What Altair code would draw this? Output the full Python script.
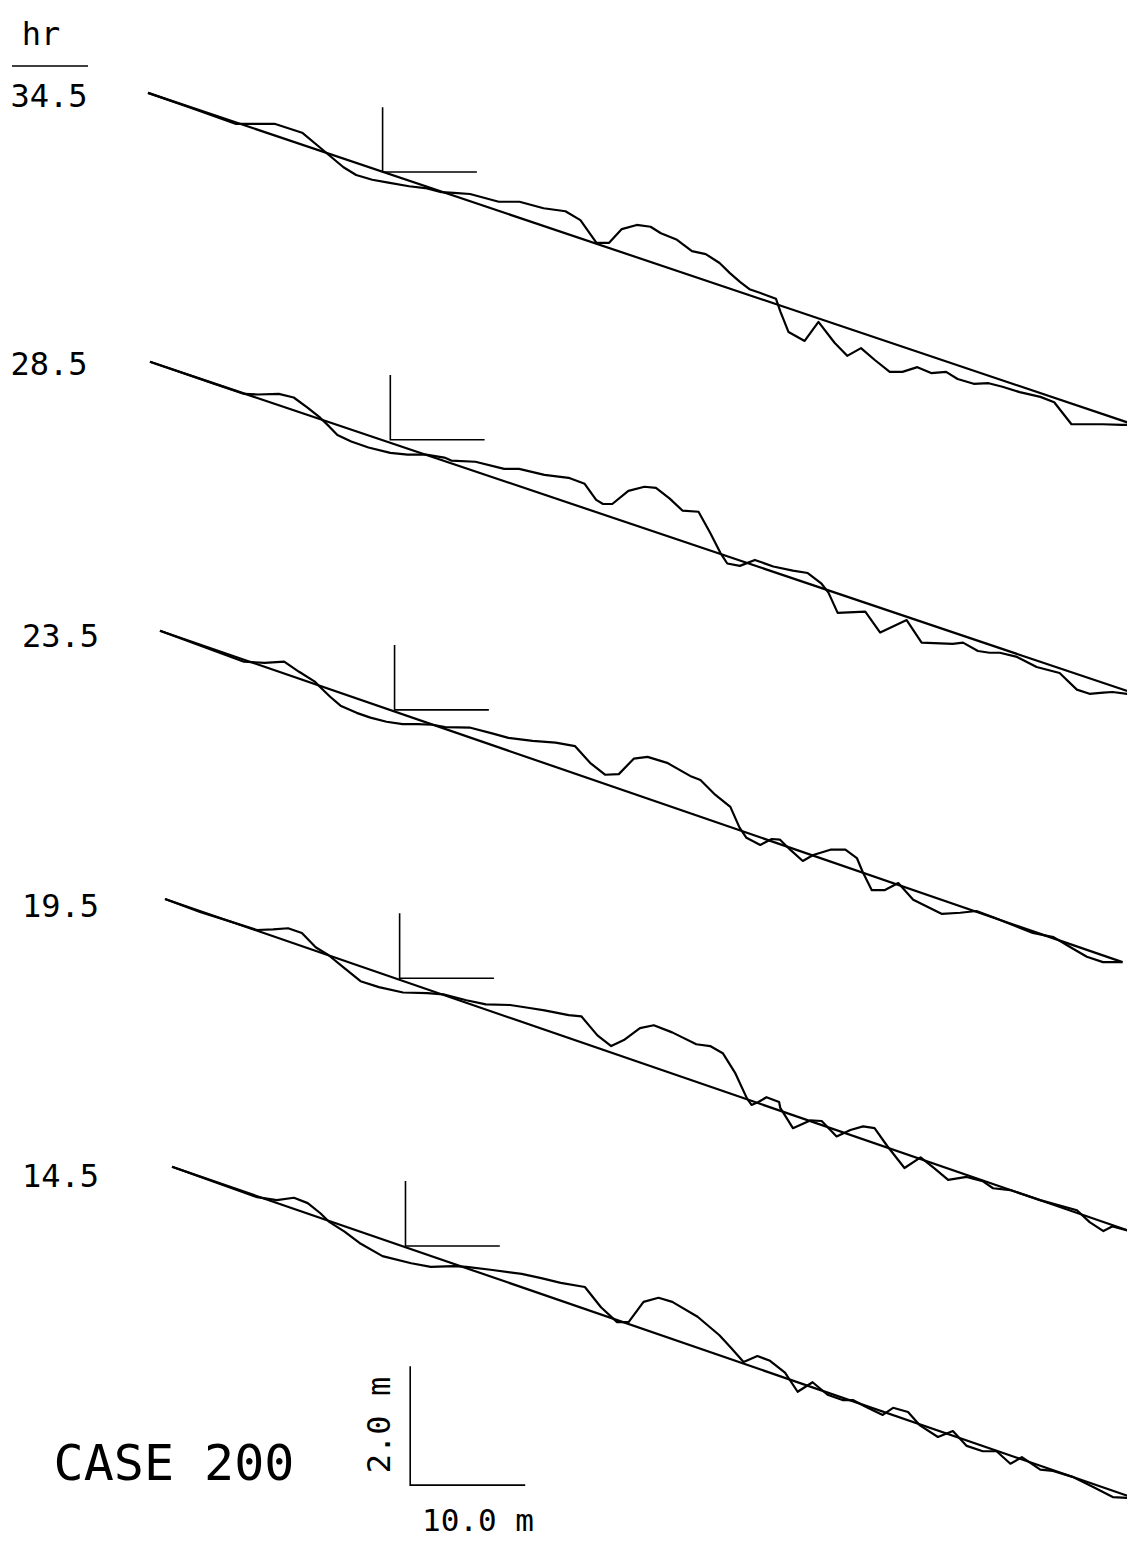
import altair as alt
import pandas as pd

# ---------------- data ----------------
HOURS = ["34.5", "28.5", "23.5", "19.5", "14.5"]

# cross-shore distance (m) and elevation relative to SWL (m) of each measured profile
P1_X = [0.0, 3.7, 7.6, 11.0, 13.4, 14.9, 15.7, 17.0, 18.1, 19.5, 20.9, 22.7, 24.1, 25.5, 26.6,
        28.0, 30.5, 32.3, 34.4, 36.3, 37.6, 39.0, 40.1, 41.2, 42.5, 43.7, 44.6, 46.0, 47.3, 48.5,
        49.7, 50.6, 51.5, 52.3, 53.2, 54.6, 55.0, 55.7, 57.1, 58.3, 59.7, 60.8, 62.0, 63.2, 64.5,
        65.6, 66.9, 68.1, 69.4, 70.4, 71.8, 73.1, 74.3, 75.8, 77.6, 78.8, 80.3, 83.0, 84.7, 85.8]
P1_Z = [1.33, 1.08, 0.81, 0.81, 0.66, 0.42, 0.29, 0.08, -0.05, -0.13, -0.18, -0.24, -0.27, -0.34, -0.35,
        -0.37, -0.50, -0.50, -0.61, -0.66, -0.81, -1.19, -1.19, -0.96, -0.89, -0.92, -1.03, -1.14, -1.33, -1.38,
        -1.53, -1.70, -1.85, -1.97, -2.03, -2.13, -2.35, -2.69, -2.84, -2.52, -2.87, -3.09, -2.96, -3.16, -3.36,
        -3.36, -3.28, -3.38, -3.36, -3.48, -3.56, -3.55, -3.61, -3.70, -3.78, -3.87, -4.24, -4.24, -4.25, -4.25]

P2_X = [0.0, 5.3, 8.2, 9.4, 11.2, 12.5, 13.7, 14.8, 15.6, 16.3, 17.5, 19.0, 20.9, 22.4, 24.0,
        25.6, 26.2, 28.3, 30.8, 32.1, 34.3, 36.4, 37.8, 38.8, 39.4, 40.2, 41.6, 43.0, 44.0, 45.2,
        46.3, 47.7, 48.7, 49.6, 50.2, 51.3, 52.6, 54.2, 55.9, 57.2, 58.4, 59.0, 59.8, 62.2, 63.5,
        65.8, 67.1, 69.8, 70.7, 72.0, 73.0, 73.9, 75.4, 77.1, 79.1, 80.6, 81.7, 82.9, 83.7, 85.7]
P2_Z = [1.31, 0.96, 0.77, 0.76, 0.77, 0.71, 0.54, 0.37, 0.22, 0.08, -0.03, -0.13, -0.22, -0.25, -0.25,
        -0.30, -0.35, -0.37, -0.49, -0.49, -0.59, -0.64, -0.74, -1.01, -1.08, -1.08, -0.86, -0.79, -0.81, -0.99,
        -1.19, -1.21, -1.56, -1.90, -2.08, -2.12, -2.02, -2.13, -2.20, -2.24, -2.42, -2.57, -2.91, -2.89, -3.24,
        -3.03, -3.41, -3.43, -3.41, -3.55, -3.58, -3.58, -3.65, -3.82, -3.92, -4.20, -4.27, -4.25, -4.24, -4.29]

P3_X = [0.0, 7.3, 9.1, 10.8, 12.1, 13.5, 13.9, 14.8, 15.7, 17.1, 18.3, 19.7, 21.1, 22.4, 23.7,
        24.8, 27.0, 28.8, 30.3, 32.4, 34.4, 36.1, 37.4, 38.7, 39.9, 41.2, 42.4, 44.1, 46.1, 47.0,
        48.3, 49.6, 50.4, 51.0, 52.2, 53.2, 53.9, 54.8, 55.9, 56.8, 58.3, 59.6, 60.6, 61.1, 61.9,
        63.0, 64.2, 65.5, 68.0, 69.6, 71.0, 71.7, 72.4, 75.9, 77.7, 79.1, 80.6, 82.0, 83.7]
P3_Z = [1.33, 0.81, 0.79, 0.81, 0.64, 0.47, 0.39, 0.22, 0.07, -0.05, -0.13, -0.20, -0.24, -0.24, -0.25,
        -0.29, -0.30, -0.39, -0.47, -0.52, -0.55, -0.61, -0.89, -1.09, -1.08, -0.82, -0.79, -0.89, -1.11, -1.18,
        -1.43, -1.63, -1.98, -2.15, -2.27, -2.17, -2.18, -2.35, -2.54, -2.44, -2.35, -2.35, -2.49, -2.72, -3.03,
        -3.03, -2.91, -3.19, -3.43, -3.41, -3.38, -3.43, -3.48, -3.75, -3.82, -3.98, -4.15, -4.24, -4.24]

P4_X = [0.0, 3.1, 8.0, 9.4, 10.7, 11.9, 13.1, 14.2, 15.6, 17.0, 18.6, 20.7, 22.8, 24.2, 26.2,
        27.9, 30.0, 31.7, 33.0, 35.1, 36.2, 37.6, 38.8, 39.9, 41.3, 42.5, 44.1, 46.2, 47.4, 48.5,
        49.6, 50.6, 51.0, 51.6, 52.3, 53.4, 53.5, 54.6, 56.1, 57.1, 58.4, 59.6, 60.7, 61.7, 62.8,
        64.3, 65.7, 66.8, 68.1, 69.7, 71.1, 72.0, 73.5, 76.1, 79.3, 80.4, 81.6, 82.4, 83.9]
P4_Z = [1.33, 1.11, 0.81, 0.82, 0.84, 0.76, 0.52, 0.39, 0.17, -0.05, -0.15, -0.24, -0.25, -0.27, -0.37,
        -0.44, -0.45, -0.50, -0.54, -0.62, -0.64, -0.96, -1.14, -1.04, -0.84, -0.79, -0.91, -1.11, -1.14, -1.26,
        -1.60, -2.02, -2.13, -2.08, -2.00, -2.08, -2.18, -2.52, -2.39, -2.40, -2.66, -2.55, -2.49, -2.52, -2.82,
        -3.19, -3.01, -3.18, -3.39, -3.34, -3.41, -3.53, -3.56, -3.73, -3.90, -4.10, -4.25, -4.17, -4.25]

P5_X = [0.0, 7.4, 9.1, 10.6, 11.8, 12.9, 13.7, 15.0, 16.3, 18.3, 20.8, 22.5, 24.5, 25.6, 27.7,
        30.4, 32.1, 33.8, 35.9, 37.3, 38.7, 39.7, 41.0, 42.3, 43.5, 45.7, 47.6, 48.6, 49.7, 50.9,
        52.0, 53.3, 54.4, 55.7, 57.0, 58.3, 59.2, 60.4, 61.8, 62.7, 64.0, 65.0, 66.6, 67.9, 69.1,
        70.5, 71.7, 72.9, 73.9, 75.5, 76.6, 78.3, 80.1, 81.8, 83.7]
P5_Z = [1.33, 0.82, 0.77, 0.81, 0.72, 0.55, 0.40, 0.24, 0.05, -0.17, -0.29, -0.35, -0.34, -0.35, -0.40,
        -0.47, -0.54, -0.62, -0.69, -1.03, -1.28, -1.28, -0.94, -0.87, -0.94, -1.19, -1.50, -1.71, -1.95, -1.85,
        -1.93, -2.13, -2.45, -2.29, -2.50, -2.59, -2.59, -2.71, -2.84, -2.72, -2.79, -3.01, -3.21, -3.11, -3.36,
        -3.45, -3.45, -3.66, -3.55, -3.76, -3.78, -3.88, -4.05, -4.22, -4.24]

PROFILES_X = [P1_X, P2_X, P3_X, P4_X, P5_X]
PROFILES_Z = [P1_Z, P2_Z, P3_Z, P4_Z, P5_Z]

# initial (plane) slope drawn in every panel: start and end points
LINE_X_END = [85.8, 85.7, 83.7, 83.9, 83.7]
LINE_Z_START = [1.33, 1.31, 1.33, 1.33, 1.33]
LINE_Z_END = [-4.25, -4.27, -4.24, -4.25, -4.24]

# initial shoreline marker (vertical tick + still-water-level line)
SHORE_X = [20.4, 20.9, 20.4, 20.4, 20.3]
MARK_HEIGHT = 1.09
SWL_LENGTH = 8.2

# scale bar lengths (m)
SCALE_X_LEN = 10.0
SCALE_Z_LEN = 2.0

# ---------------- layout (plot space, m) ----------------
PANEL_DX = [0.0, 0.17, 1.04, 1.48, 2.09]
PANEL_DY = [0.0, -4.50, -9.04, -13.55, -18.05]
LABEL_X = [-8.6, -8.6, -7.6, -7.6, -7.6]
LABEL_DZ = [1.26, 1.26, 1.23, 1.19, 1.16]
SCALE_X0 = 22.8
SCALE_Y0 = -22.07

X_DOMAIN = [-12.174, 85.13]
Y_DOMAIN = [-22.874, 2.756]
W, H = 1119, 1525
FONT = "DejaVu Sans Mono"

rows = []
for k in range(5):
    dx, dy = PANEL_DX[k], PANEL_DY[k]
    xs, zs = PROFILES_X[k], PROFILES_Z[k]
    assert len(xs) == len(zs), k
    for i, (x, z) in enumerate(zip(xs, zs)):
        rows.append(dict(series=f"profile{k}", ord=i, X=x + dx, Y=z + dy, grp="main"))
    rows.append(dict(series=f"initial{k}", ord=0, X=0.0 + dx, Y=LINE_Z_START[k] + dy, grp="main"))
    rows.append(dict(series=f"initial{k}", ord=1, X=LINE_X_END[k] + dx, Y=LINE_Z_END[k] + dy, grp="main"))
    sx = SHORE_X[k] + dx
    rows.append(dict(series=f"marker{k}", ord=0, X=sx, Y=dy + MARK_HEIGHT, grp="thin"))
    rows.append(dict(series=f"marker{k}", ord=1, X=sx, Y=dy, grp="thin"))
    rows.append(dict(series=f"marker{k}", ord=2, X=sx + SWL_LENGTH, Y=dy, grp="thin"))

rows.append(dict(series="scale", ord=0, X=SCALE_X0, Y=SCALE_Y0 + SCALE_Z_LEN, grp="thin"))
rows.append(dict(series="scale", ord=1, X=SCALE_X0, Y=SCALE_Y0, grp="thin"))
rows.append(dict(series="scale", ord=2, X=SCALE_X0 + SCALE_X_LEN, Y=SCALE_Y0, grp="thin"))

df = pd.DataFrame(rows)

xsc = alt.Scale(domain=X_DOMAIN, nice=False, zero=False)
ysc = alt.Scale(domain=Y_DOMAIN, nice=False, zero=False)

base = alt.Chart(df).encode(
    x=alt.X("X:Q", scale=xsc, axis=None),
    y=alt.Y("Y:Q", scale=ysc, axis=None),
    detail="series:N",
    order="ord:Q",
)
main_lines = base.transform_filter(alt.datum.grp == "main").mark_line(
    color="black", strokeWidth=2.2, clip=True, strokeJoin="round")
thin_lines = base.transform_filter(alt.datum.grp == "thin").mark_line(
    color="black", strokeWidth=1.6, clip=True)

labels_df = pd.DataFrame({
    "X": LABEL_X,
    "Y": [d + dz for d, dz in zip(PANEL_DY, LABEL_DZ)],
    "t": HOURS,
})
labels = alt.Chart(labels_df).mark_text(
    font=FONT, fontSize=32, align="center", baseline="middle", color="black"
).encode(x=alt.X("X:Q", scale=xsc, axis=None), y=alt.Y("Y:Q", scale=ysc, axis=None), text="t:N")

hr = alt.Chart(pd.DataFrame({"t": ["hr"]})).mark_text(
    font=FONT, fontSize=32, align="center", baseline="alphabetic", color="black"
).encode(x=alt.value(33), y=alt.value(37), text="t:N")
hr_rule = alt.Chart(pd.DataFrame({"a": [0]})).mark_rule(color="black", strokeWidth=1.6).encode(
    x=alt.value(4), x2=alt.value(80), y=alt.value(58))

case = alt.Chart(pd.DataFrame({"t": ["CASE 200"]})).mark_text(
    font=FONT, fontSize=50, align="center", baseline="middle", color="black"
).encode(x=alt.value(166), y=alt.value(1457), text="t:N")

zlab = alt.Chart(pd.DataFrame({"t": ["2.0 m"]})).mark_text(
    font=FONT, fontSize=32, align="center", baseline="middle", angle=270, color="black"
).encode(x=alt.value(372), y=alt.value(1417), text="t:N")

xlab = alt.Chart(pd.DataFrame({"t": ["10.0 m"]})).mark_text(
    font=FONT, fontSize=31, align="center", baseline="middle", color="black"
).encode(x=alt.value(470), y=alt.value(1514), text="t:N")

chart = alt.layer(main_lines, thin_lines, labels, hr, hr_rule, case, zlab, xlab).properties(
    width=W, height=H, padding=0, background="white"
).configure_view(stroke=None)

chart.save("out.html", embed_options={"renderer": "svg", "actions": False})
